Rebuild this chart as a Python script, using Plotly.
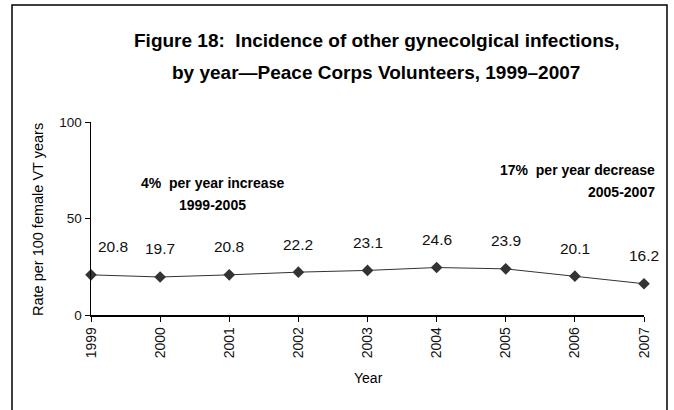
import plotly.graph_objects as go

years = [1999, 2000, 2001, 2002, 2003, 2004, 2005, 2006, 2007]
rates = [20.8, 19.7, 20.8, 22.2, 23.1, 24.6, 23.9, 20.1, 16.2]
y_ticks = [0, 50, 100]
title_lines = ["Figure 18:  Incidence of other gynecolgical infections,",
               "by year\u2014Peace Corps Volunteers, 1999\u20132007"]
note_left = ["4%  per year increase", "1999-2005"]
note_right = ["17%  per year decrease", "2005-2007"]
x_title = "Year"
y_title = "Rate per 100 female VT years"

FONT = "Arial, Liberation Sans, sans-serif"

W, H = 674, 410
X0, X1, Y0, Y1 = 91, 644, 122, 315  # plot area in pixels
L, R, T, B = X0, W - X1, Y0, H - Y1
pw, ph = X1 - X0, Y1 - Y0


def px(x):
    return (x - X0) / pw


def py(y):
    return (Y1 - y) / ph


fig = go.Figure()
fig.add_trace(go.Scatter(
    x=years, y=rates, mode="lines+markers",
    line=dict(color="#333333", width=1),
    marker=dict(symbol="diamond", size=9, color="#333333"),
    cliponaxis=False, showlegend=False, hoverinfo="skip",
))

for i, (x, y) in enumerate(zip(years, rates)):
    fig.add_annotation(x=x, y=y, text=f"{y:.1f}", showarrow=False,
                       xanchor="center", yanchor="middle",
                       yshift=28, xshift=22 if i == 0 else 0,
                       font=dict(family=FONT, size=15.5, color="#111"))


def note(text, x, y, size, anchor="center", bold=True, angle=0):
    fig.add_annotation(xref="paper", yref="paper", x=px(x), y=py(y),
                       text=("<b>" + text + "</b>") if bold else text,
                       showarrow=False, xanchor=anchor, yanchor="middle",
                       textangle=angle,
                       font=dict(family=FONT, size=size, color="#000"))


note(title_lines[0], 377, 40, 19)
note(title_lines[1], 376, 72, 19)
note(note_left[0], 212, 183, 14)
note(note_left[1], 212, 205, 14)
note(note_right[0], 657, 170, 14, anchor="right")
note(note_right[1], 657, 192, 14, anchor="right")
note(x_title, 368, 378, 14, bold=False)
note(y_title, 38, 220, 14.5, bold=False, angle=-90)

fig.add_shape(type="rect", xref="paper", yref="paper",
              x0=px(12), x1=px(667), y0=py(430), y1=py(5),
              line=dict(color="#000", width=1.5), fillcolor="rgba(0,0,0,0)")

fig.update_xaxes(
    range=[1999, 2007], tickmode="array", tickvals=years,
    ticktext=[str(y) for y in years], tickangle=-90,
    showline=True, linecolor="#000", linewidth=1.5, ticks="outside",
    ticklen=5, tickcolor="#000", showgrid=False, zeroline=False,
    tickfont=dict(family=FONT, size=14, color="#111"),
)
fig.update_yaxes(
    range=[0, 100], tickmode="array", tickvals=y_ticks,
    showline=True, linecolor="#000", linewidth=1.5, ticks="outside",
    ticklen=5, tickcolor="#000", showgrid=False, zeroline=False,
    tickfont=dict(family=FONT, size=13.5, color="#111"),
)
fig.update_layout(
    width=W, height=H, margin=dict(l=L, r=R, t=T, b=B),
    paper_bgcolor="white", plot_bgcolor="white",
    font=dict(family=FONT),
)
fig.write_html(
    "out.html",
    config={"displayModeBar": False, "staticPlot": True},
    post_script="document.body.style.margin='0';document.body.style.overflow='hidden';",
)
